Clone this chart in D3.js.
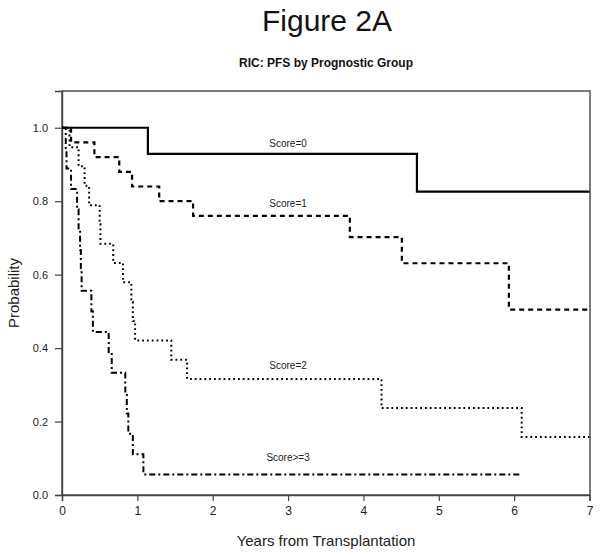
<!DOCTYPE html>
<html>
<head>
<meta charset="utf-8">
<script src="https://cdn.jsdelivr.net/npm/d3@7"></script>
<style>
  html, body { margin: 0; padding: 0; background: #fff; }
  svg { display: block; font-family: "Liberation Sans", Arial, sans-serif; }
</style>
</head>
<body>
<svg id="chart" width="601" height="556"></svg>
<script>
// ---- Data ----
const groups = ["Score=0", "Score=1", "Score=2", "Score>=3"];

// Drop times (years) and survival after each drop
const score0Times = [1.14, 4.71];
const score0Surv  = [0.929, 0.826];
const score0End   = 7.0;

const score1Times = [0.12, 0.43, 0.76, 0.93, 1.29, 1.74, 3.82, 4.51, 5.93];
const score1Surv  = [0.96, 0.92, 0.88, 0.84, 0.80, 0.76, 0.702, 0.631, 0.505];
const score1End   = 7.0;

const score2Times = [0.10, 0.22, 0.30, 0.36, 0.50, 0.51, 0.68, 0.81, 0.92, 0.94, 0.97, 1.45, 1.66, 4.24, 6.10];
const score2Surv  = [0.947, 0.895, 0.842, 0.789, 0.737, 0.684, 0.632, 0.579, 0.526, 0.474, 0.421, 0.368, 0.316, 0.237, 0.158];
const score2End   = 7.0;

const score3Times = [0.05, 0.06, 0.12, 0.20, 0.22, 0.24, 0.25, 0.26, 0.39, 0.41, 0.62, 0.66, 0.84, 0.86, 0.88, 0.94, 1.08];
const score3Surv  = [0.944, 0.889, 0.833, 0.778, 0.722, 0.667, 0.611, 0.556, 0.500, 0.444, 0.389, 0.333, 0.278, 0.222, 0.167, 0.111, 0.056];
const score3End   = 6.08;

// Label anchor positions (data units)
const labelX = [3.0, 3.0, 3.0, 3.0];
const labelY = [0.947, 0.783, 0.342, 0.092];

const xTicks = [0, 1, 2, 3, 4, 5, 6, 7];
const yTicks = [0.0, 0.2, 0.4, 0.6, 0.8, 1.0];

const titleText = "Figure 2A";
const subtitleText = "RIC: PFS by Prognostic Group";
const xLabel = "Years from Transplantation";
const yLabel = "Probability";

// ---- Layout ----
const svg = d3.select("#chart");
const mLeft = 62, mRight = 590, mTop = 91, mBottom = 495;

const x = d3.scaleLinear().domain([0, 7]).range([mLeft, mRight - 0.5]);
const y = d3.scaleLinear().domain([0, 1.1]).range([mBottom, mTop]);

const frameColor = "#444";
const textColor = "#222";

// Titles
svg.append("text").attr("x", 327).attr("y", 31)
  .attr("text-anchor", "middle").attr("font-size", 30).attr("fill", "#111")
  .text(titleText);
svg.append("text").attr("x", 326).attr("y", 67)
  .attr("text-anchor", "middle").attr("font-size", 12).attr("font-weight", "bold").attr("fill", "#111")
  .text(subtitleText);

// Frame
svg.append("rect").attr("x", mLeft).attr("y", mTop)
  .attr("width", mRight - mLeft).attr("height", mBottom - mTop)
  .attr("fill", "none").attr("stroke", frameColor).attr("stroke-width", 1.4);

// Axes
const xAxis = d3.axisBottom(x).tickValues(xTicks).tickFormat(d3.format("d")).tickSize(6).tickPadding(5);
const gx = svg.append("g").attr("transform", `translate(0,${mBottom})`).call(xAxis);
gx.select(".domain").attr("stroke", frameColor).attr("stroke-width", 1.4);
gx.selectAll(".tick line").attr("stroke", frameColor).attr("stroke-width", 1.2);
gx.selectAll(".tick text").attr("font-size", 12).attr("fill", textColor)
  .attr("font-family", "Liberation Sans, Arial, sans-serif");

const yAxis = d3.axisLeft(y).tickValues(yTicks).tickFormat(d3.format(".1f")).tickSize(7).tickPadding(7);
const gy = svg.append("g").attr("transform", `translate(${mLeft},0)`).call(yAxis);
gy.select(".domain").attr("stroke", frameColor).attr("stroke-width", 1.4);
gy.selectAll(".tick line").attr("stroke", frameColor).attr("stroke-width", 1.2);
gy.selectAll(".tick text").attr("font-size", 11).attr("fill", textColor)
  .attr("font-family", "Liberation Sans, Arial, sans-serif");

// Axis labels
svg.append("text").attr("x", 326).attr("y", 546)
  .attr("text-anchor", "middle").attr("font-size", 15).attr("fill", textColor)
  .text(xLabel);
svg.append("text")
  .attr("transform", `translate(19,${(mTop + mBottom) / 2}) rotate(-90)`)
  .attr("text-anchor", "middle").attr("font-size", 15).attr("fill", textColor)
  .text(yLabel);

// Curves
function stepPoints(times, surv, end) {
  const pts = [[0, 1]];
  times.forEach((t, i) => pts.push([t, surv[i]]));
  pts.push([end, surv[surv.length - 1]]);
  return pts;
}
const line = d3.line().x(d => x(d[0])).y(d => y(d[1])).curve(d3.curveStepAfter);

const series = [
  { pts: stepPoints(score0Times, score0Surv, score0End), dash: null, w: 2.2 },
  { pts: stepPoints(score1Times, score1Surv, score1End), dash: "5,4", w: 2.2 },
  { pts: stepPoints(score2Times, score2Surv, score2End), dash: "1.8,3", w: 2.0 },
  { pts: stepPoints(score3Times, score3Surv, score3End), dash: "6,3,2,3", w: 2.0 }
];

svg.append("g").selectAll("path").data(series).join("path")
  .attr("d", d => line(d.pts))
  .attr("fill", "none").attr("stroke", "#000")
  .attr("stroke-width", d => d.w)
  .attr("stroke-dasharray", d => d.dash);

// Curve labels
svg.append("g").selectAll("text").data(groups).join("text")
  .attr("x", (d, i) => x(labelX[i]))
  .attr("y", (d, i) => y(labelY[i]))
  .attr("text-anchor", "middle").attr("font-size", 10).attr("fill", textColor)
  .text(d => d);
</script>
</body>
</html>
